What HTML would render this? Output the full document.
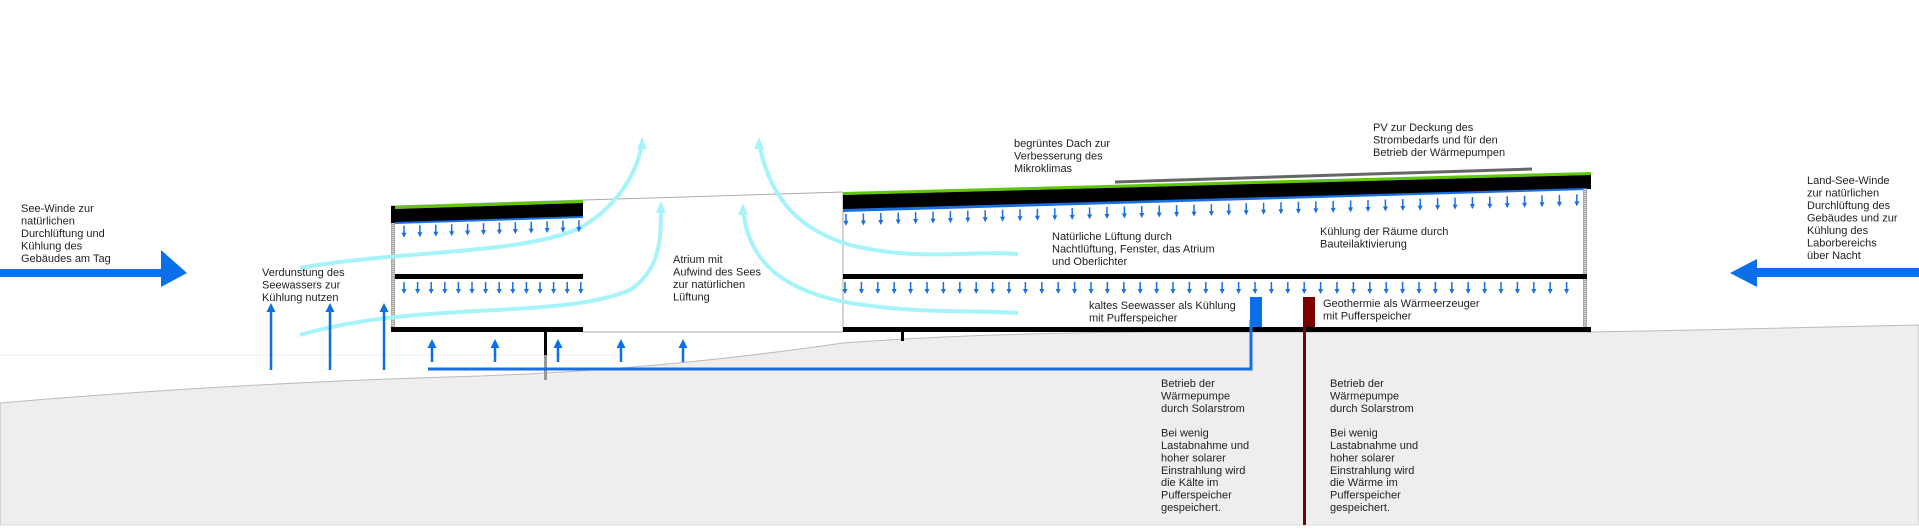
<!DOCTYPE html>
<html><head><meta charset="utf-8"><style>
html,body{margin:0;padding:0;background:#fff;}
svg{display:block;}
text{font-family:"Liberation Sans",Arial,sans-serif;font-size:11px;fill:#222;}
</style></head><body>
<svg id="s" width="1919" height="530" viewBox="0 0 1919 530" xmlns="http://www.w3.org/2000/svg">
<!-- ground -->
<line x1="0" y1="355" x2="620" y2="355" stroke="#eee" stroke-width="1"/>
<path d="M0,403 C150,390 300,381 480,376 C640,370 760,355 843,343 C950,335 1050,333 1150,332 L1590,332 C1700,330 1800,328 1919,325 L1919,525 L0,525 Z" fill="#eeeeee" stroke="#bbb" stroke-width="1"/>
<line x1="0" y1="525" x2="1919" y2="525" stroke="#ddd" stroke-width="1"/>

<!-- atrium box -->
<polyline points="391,206 843,192" fill="none" stroke="#aaa" stroke-width="1"/>
<line x1="843" y1="192" x2="843" y2="332" stroke="#aaa" stroke-width="1"/>
<line x1="583" y1="332" x2="843" y2="332" stroke="#aaa" stroke-width="1"/>

<!-- left building -->
<polygon points="395,206 583,200 583,203 395,209" fill="#5fc800"/>
<polygon points="391,206 395,206 395,209 583,203 583,217 391,223" fill="#000"/>
<polygon points="395,222 583,216 583,218 395,224" fill="#1a6fe0"/>
<rect x="391" y="223" width="4" height="104" fill="#aaa"/>
<line x1="393" y1="223" x2="393" y2="327" stroke="#fff" stroke-width="1" stroke-dasharray="1,1"/>
<rect x="395" y="274" width="188" height="5" fill="#000"/>
<rect x="391" y="327" width="192" height="5" fill="#000"/>
<rect x="544" y="332" width="3" height="23" fill="#000"/>
<rect x="544" y="355" width="3" height="25" fill="#999"/>

<!-- right building -->
<polygon points="843,192 1591,172 1591,175 843,195" fill="#5fc800"/>
<polygon points="843,195 1591,175 1591,189 843,210" fill="#000"/>
<polygon points="843,209 1587,188 1587,190 843,212" fill="#1a6fe0"/>
<rect x="1583" y="189" width="4" height="138" fill="#aaa"/>
<line x1="1585" y1="189" x2="1585" y2="327" stroke="#fff" stroke-width="1" stroke-dasharray="1,1"/>
<rect x="843" y="274" width="744" height="5" fill="#000"/>
<rect x="843" y="327" width="748" height="5" fill="#000"/>
<rect x="901" y="332" width="3" height="9" fill="#000"/>
<!-- PV -->
<line x1="1115" y1="182" x2="1532" y2="169" stroke="#666" stroke-width="3"/>

<!-- buffer tanks & pipes -->
<polyline points="428,369 1251,369 1251,320" fill="none" stroke="#1a6fe0" stroke-width="3"/>
<rect x="1250" y="297" width="12" height="30" fill="#0a6fe8"/>
<rect x="1303" y="297" width="12" height="30" fill="#7a0000"/>
<rect x="1303" y="327" width="3" height="198" fill="#7a0000"/>

<!-- cyan flows -->
<g fill="none" stroke="#a6f4fa" stroke-width="4">
<path d="M300,268 C400,250 520,255 580,228 C620,205 638,170 642,143"/>
<path d="M300,335 C420,300 560,320 630,290 C660,270 661,240 661,208"/>
<path d="M759,143 C770,200 800,230 850,245 C920,262 970,250 1018,254"/>
<path d="M743,209 C748,260 780,290 850,303 C920,314 970,310 1018,313"/>
</g>
<g fill="#a6f4fa">
<polygon points="642,137 637,149 647,149"/>
<polygon points="661,201 656,213 666,213"/>
<polygon points="759,137 754,149 764,149"/>
<polygon points="743,203 738,215 748,215"/>
</g>

<!-- wind arrows -->
<rect x="0" y="269" width="162" height="8" fill="#0a6fe8"/>
<polygon points="161,250 187,273 161,287" fill="#0a6fe8"/>
<rect x="1756" y="268" width="163" height="9" fill="#0a6fe8"/>
<polygon points="1757,259 1730,273 1757,287" fill="#0a6fe8"/>

<g id="arrows"></g>

<!-- texts -->
<text x="21" y="212">See-Winde zur</text>
<text x="21" y="224.5">natürlichen</text>
<text x="21" y="237">Durchlüftung und</text>
<text x="21" y="249.5">Kühlung des</text>
<text x="21" y="262">Gebäudes am Tag</text>

<text x="262" y="276">Verdunstung des</text>
<text x="262" y="288.5">Seewassers zur</text>
<text x="262" y="301">Kühlung nutzen</text>

<text x="673" y="263">Atrium mit</text>
<text x="673" y="275.5">Aufwind des Sees</text>
<text x="673" y="288">zur natürlichen</text>
<text x="673" y="300.5">Lüftung</text>

<text x="1014" y="147">begrüntes Dach zur</text>
<text x="1014" y="159.5">Verbesserung des</text>
<text x="1014" y="172">Mikroklimas</text>

<text x="1373" y="131">PV zur Deckung des</text>
<text x="1373" y="143.5">Strombedarfs und für den</text>
<text x="1373" y="156">Betrieb der Wärmepumpen</text>

<text x="1052" y="240">Natürliche Lüftung durch</text>
<text x="1052" y="252.5">Nachtlüftung, Fenster, das Atrium</text>
<text x="1052" y="265">und Oberlichter</text>

<text x="1320" y="235">Kühlung der Räume durch</text>
<text x="1320" y="247.5">Bauteilaktivierung</text>

<text x="1089" y="309">kaltes Seewasser als Kühlung</text>
<text x="1089" y="321.5">mit Pufferspeicher</text>

<text x="1323" y="307">Geothermie als Wärmeerzeuger</text>
<text x="1323" y="319.5">mit Pufferspeicher</text>

<text x="1807" y="184">Land-See-Winde</text>
<text x="1807" y="196.5">zur natürlichen</text>
<text x="1807" y="209">Durchlüftung des</text>
<text x="1807" y="221.5">Gebäudes und zur</text>
<text x="1807" y="234">Kühlung des</text>
<text x="1807" y="246.5">Laborbereichs</text>
<text x="1807" y="259">über Nacht</text>

<g>
<text x="1161" y="387">Betrieb der</text>
<text x="1161" y="399.4">Wärmepumpe</text>
<text x="1161" y="411.8">durch Solarstrom</text>
<text x="1161" y="436.6">Bei wenig</text>
<text x="1161" y="449">Lastabnahme und</text>
<text x="1161" y="461.4">hoher solarer</text>
<text x="1161" y="473.8">Einstrahlung wird</text>
<text x="1161" y="486.2">die Kälte im</text>
<text x="1161" y="498.6">Pufferspeicher</text>
<text x="1161" y="511">gespeichert.</text>
</g>
<g>
<text x="1330" y="387">Betrieb der</text>
<text x="1330" y="399.4">Wärmepumpe</text>
<text x="1330" y="411.8">durch Solarstrom</text>
<text x="1330" y="436.6">Bei wenig</text>
<text x="1330" y="449">Lastabnahme und</text>
<text x="1330" y="461.4">hoher solarer</text>
<text x="1330" y="473.8">Einstrahlung wird</text>
<text x="1330" y="486.2">die Wärme im</text>
<text x="1330" y="498.6">Pufferspeicher</text>
<text x="1330" y="511">gespeichert.</text>
</g>
</svg>
<script>
(function(){
var g=document.getElementById('arrows'),ns='http://www.w3.org/2000/svg',h='';
function down(x,y,l){h+='<line x1="'+x+'" y1="'+y+'" x2="'+x+'" y2="'+(y+l-4)+'" stroke="#1a6fe0" stroke-width="1.5"/><polygon points="'+(x-2.5)+','+(y+l-5)+' '+(x+2.5)+','+(y+l-5)+' '+x+','+(y+l)+'" fill="#1a6fe0"/>';}
function up(x,y1,y2,w){h+='<line x1="'+x+'" y1="'+(y1+6)+'" x2="'+x+'" y2="'+y2+'" stroke="#0a6fe8" stroke-width="2.5"/><polygon points="'+(x-w)+','+(y1+9)+' '+(x+w)+','+(y1+9)+' '+x+','+y1+'" fill="#0a6fe8"/>';}
var i,x;
for(i=0;i<12;i++){x=404+i*15.9;down(x,226-(x-395)/188*6,12);}
for(i=0;i<14;i++){x=404+i*13.6;down(x,282,12);}
for(i=0;i<43;i++){x=846+i*17.4;down(x,214-(x-843)/748*20,12);}
for(i=0;i<45;i++){x=845+i*16.4;down(x,282,12);}
[432,495,558,621,683].forEach(function(x){up(x,339,362,4.5);});
[271,330,384].forEach(function(x){up(x,303,370,4.5);});
g.innerHTML=h;
})();
</script>
</body></html>
